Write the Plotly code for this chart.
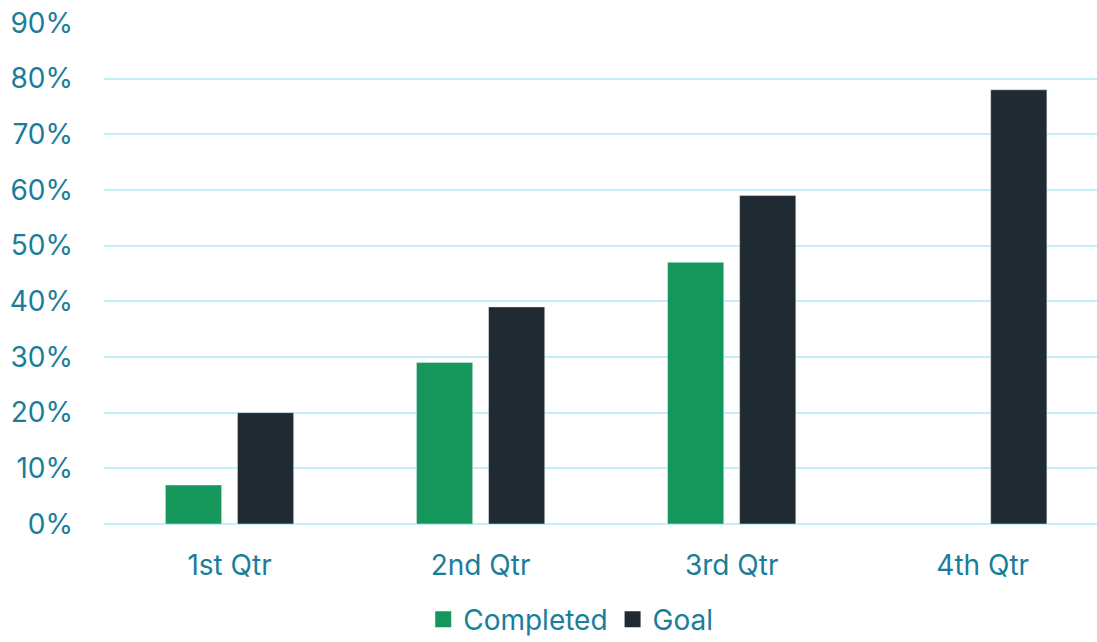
import plotly.graph_objects as go

quarters = ["1st Qtr", "2nd Qtr", "3rd Qtr", "4th Qtr"]
completed = [0.07, 0.29, 0.47, None]
goal = [0.20, 0.39, 0.59, 0.78]
y_ticks = [0, 0.1, 0.2, 0.3, 0.4, 0.5, 0.6, 0.7, 0.8, 0.9]
y_tick_labels = ["0%", "10%", "20%", "30%", "40%", "50%", "60%", "70%", "80%", "90%"]

GREEN = "#15965A"
DARK = "#1F2A33"
TEXT = "#1A7D9B"
GRID = "#C4EEF8"
FONT = "Inter"
SIZE = 28

fig = go.Figure()
fig.add_trace(go.Bar(name="Completed", x=quarters, y=completed,
                     marker=dict(color=GREEN), showlegend=False))
fig.add_trace(go.Bar(name="Goal", x=quarters, y=goal,
                     marker=dict(color=DARK), showlegend=False))

# legend entries with larger square swatches
for name, color in [("Completed", GREEN), ("Goal", DARK)]:
    fig.add_trace(go.Scatter(name=name, x=[None], y=[None], mode="markers",
                             marker=dict(symbol="square", size=18, color=color)))

fig.update_layout(
    width=1097, height=642,
    margin=dict(l=104, r=0, t=23, b=118),
    paper_bgcolor="white", plot_bgcolor="white",
    barmode="group", bargap=0.426, bargroupgap=0.22,
    font=dict(family=FONT, size=SIZE, color=TEXT),
    showlegend=True,
    legend=dict(orientation="h", x=0.47, xanchor="center", yref="container",
                y=0.035, yanchor="middle", font=dict(size=SIZE, color=TEXT),
                traceorder="normal", itemwidth=30, entrywidth=0),
)
fig.update_xaxes(
    range=[-0.5, 3.455], showgrid=False, showline=False, zeroline=False,
    ticks="", ticklabelstandoff=22, tickfont=dict(size=SIZE, color=TEXT),
)
fig.update_yaxes(
    range=[0, 0.9], tickvals=y_ticks, ticktext=y_tick_labels,
    showgrid=True, gridcolor=GRID, gridwidth=2, zeroline=True, zerolinecolor=GRID,
    zerolinewidth=2, showline=False, ticks="", ticklabelstandoff=30,
    tickfont=dict(size=SIZE, color=TEXT),
)

fig.write_html("out.html")
